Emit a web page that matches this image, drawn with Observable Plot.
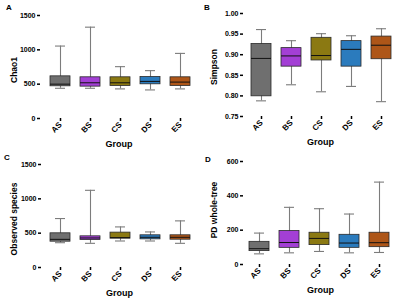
<!DOCTYPE html>
<html>
<head>
<meta charset="utf-8">
<script src="https://cdn.jsdelivr.net/npm/d3@7"></script>
<script src="https://cdn.jsdelivr.net/npm/@observablehq/plot@0.6"></script>
<style>
  body { margin: 0; background: #fff; }
  #wrap { position: relative; width: 400px; height: 301px; overflow: hidden; font-family: "Liberation Sans", Arial, sans-serif; }
  .panel { position: absolute; width: 200px; height: 150px; }
  .letter { position: absolute; font-weight: bold; font-size: 8px; font-family: "Liberation Sans", Arial, sans-serif; }
</style>
</head>
<body>
<div id="wrap"></div>
<script>
const groups = ["AS", "BS", "CS", "DS", "ES"];
const colors = ["#6f6f6f", "#a33fd5", "#8b7912", "#2b7bbd", "#ae5618"];

// Panel A: Chao1
const chaoMin = [440, 440, 431, 416, 431];
const chaoQ1  = [469, 464, 474, 498, 474];
const chaoMed = [500, 520, 520, 540, 530];
const chaoQ3  = [614, 600, 600, 605, 600];
const chaoMax = [1055, 1330, 755, 697, 948];
const chaoTicks = [0, 500, 1000, 1500];

// Panel B: Simpson
const simMin = [0.788, 0.827, 0.810, 0.823, 0.786];
const simQ1  = [0.799, 0.871, 0.886, 0.871, 0.889];
const simMed = [0.891, 0.897, 0.898, 0.913, 0.923];
const simQ3  = [0.926, 0.916, 0.941, 0.933, 0.944];
const simMax = [0.961, 0.934, 0.951, 0.946, 0.963];
const simTicks = [0.75, 0.80, 0.85, 0.90, 0.95, 1.00];

// Panel C: Observed species
const obsMin = [361, 352, 386, 386, 352];
const obsQ1  = [376, 400, 420, 410, 405];
const obsMed = [410, 430, 435, 440, 440];
const obsQ3  = [498, 454, 508, 469, 469];
const obsMax = [713, 1124, 591, 518, 679];
const obsTicks = [0, 500, 1000, 1500];

// Panel D: PD whole-tree
const pdMin = [62, 68, 76, 68, 70];
const pdQ1  = [78, 97, 113, 97, 101];
const pdMed = [92, 128, 152, 125, 127];
const pdQ3  = [132, 195, 185, 173, 185];
const pdMax = [183, 333, 325, 294, 480];
const pdTicks = [0, 200, 400, 600];

const panelLetters = ["A", "B", "C", "D"];
const yTitles = ["Chao1", "Simpson", "Observed species", "PD whole-tree"];
const xTitle = "Group";

function panel(cfg) {
  const data = groups.map((g, i) => ({
    g, min: cfg.min[i], q1: cfg.q1[i], med: cfg.med[i], q3: cfg.q3[i], max: cfg.max[i]
  }));
  const whisk = "#7c7c7c";
  return Plot.plot({
    width: 200, height: 150,
    marginLeft: cfg.mL, marginRight: 3, marginTop: cfg.mT, marginBottom: cfg.mB,
    style: {
      fontFamily: "'Liberation Sans', Arial, sans-serif",
      fontWeight: "bold", fontSize: "7px", color: "#000",
      background: "transparent", overflow: "visible"
    },
    x: { domain: groups, range: cfg.xRange, paddingInner: 0.35, paddingOuter: 0.175 },
    y: { domain: [cfg.ticks[0], cfg.ticks[cfg.ticks.length - 1]] },
    color: { domain: groups, range: colors },
    marks: [
      Plot.ruleX(data, { x: "g", y1: "min", y2: "max", stroke: whisk, strokeWidth: 1.1 }),
      Plot.tickY(data, { x: "g", y: "min", stroke: whisk, strokeWidth: 1.1, inset: 5 }),
      Plot.tickY(data, { x: "g", y: "max", stroke: whisk, strokeWidth: 1.1, inset: 5 }),
      Plot.barY(data, { x: "g", y1: "q1", y2: "q3", fill: "g", stroke: "#2a2a2a", strokeWidth: 0.8 }),
      Plot.tickY(data, { x: "g", y: "med", stroke: "#111", strokeWidth: 1 }),
      Plot.axisY({ ticks: cfg.ticks, tickFormat: cfg.fmt, tickSize: 3, tickPadding: 2, line: true, label: null, strokeWidth: 1.5, fontSize: 7 }),
      Plot.axisX({ tickRotate: -45, tickSize: 3, tickPadding: 2, line: true, label: null, strokeWidth: 1.5, fontSize: 8 }),
      Plot.text([cfg.yTitle], { text: d => d, frameAnchor: "left", textAnchor: "middle", rotate: -90, dx: -cfg.yOff, dy: cfg.yDy, fontSize: 8.5, fontWeight: "bold" }),
      Plot.text([xTitle], { text: d => d, frameAnchor: "bottom", dy: 28, fontSize: 9, fontWeight: "bold" })
    ]
  });
}

const cfgs = [
  { min: chaoMin, q1: chaoQ1, med: chaoMed, q3: chaoQ3, max: chaoMax, ticks: chaoTicks, fmt: d3.format("d"),
    mL: 40, mT: 15, mB: 32, xRange: [43, 197], yOff: 26, yDy: 3, left: 0, top: 0 },
  { min: simMin, q1: simQ1, med: simMed, q3: simQ3, max: simMax, ticks: simTicks, fmt: d3.format(".2f"),
    mL: 43, mT: 13, mB: 34, xRange: [43.5, 197], yOff: 29, yDy: 2, left: 200, top: 0 },
  { min: obsMin, q1: obsQ1, med: obsMed, q3: obsQ3, max: obsMax, ticks: obsTicks, fmt: d3.format("d"),
    mL: 41, mT: 14, mB: 33, xRange: [43, 197], yOff: 27, yDy: 3, left: 0, top: 150 },
  { min: pdMin, q1: pdQ1, med: pdMed, q3: pdQ3, max: pdMax, ticks: pdTicks, fmt: d3.format("d"),
    mL: 43, mT: 11, mB: 36, xRange: [42, 196], yOff: 29, yDy: -3, left: 200, top: 150 }
];
const letterPos = [[6, 3], [204, 3], [4, 153], [205, 155]];

const wrap = document.getElementById("wrap");
cfgs.forEach((c, i) => {
  c.yTitle = yTitles[i];
  const div = document.createElement("div");
  div.className = "panel";
  div.style.left = c.left + "px";
  div.style.top = c.top + "px";
  div.appendChild(panel(c));
  wrap.appendChild(div);
  const L = document.createElement("div");
  L.className = "letter";
  L.textContent = panelLetters[i];
  L.style.left = letterPos[i][0] + "px";
  L.style.top = letterPos[i][1] + "px";
  wrap.appendChild(L);
});
</script>
</body>
</html>
